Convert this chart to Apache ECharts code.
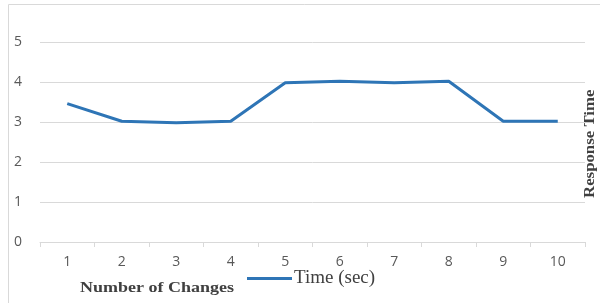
<!DOCTYPE html>
<html><head><meta charset="utf-8">
<script src="https://cdn.jsdelivr.net/npm/echarts@6/dist/echarts.min.js"></script>
<style>html,body{margin:0;padding:0;background:#fff}#c{width:600px;height:303px}</style>
</head><body><div id="c"></div>
<script>
var categories = ['1','2','3','4','5','6','7','8','9','10'];
var timeSec = [3.46, 3.02, 2.98, 3.02, 3.98, 4.02, 3.98, 4.02, 3.02, 3.02];
var yTicks = [0, 1, 2, 3, 4, 5];
var seriesName = 'Time (sec)';
var xTitle = 'Number of Changes';
var yTitle = 'Response Time';

var chart = echarts.init(document.getElementById('c'), null, {renderer: 'canvas'});
chart.setOption({
  animation: false,
  grid: {left: 40, right: 15, top: 42, bottom: 61},
  xAxis: {
    type: 'category', data: categories, boundaryGap: true,
    axisLine: {lineStyle: {color: '#d9d9d9', width: 1}},
    axisTick: {show: true, length: 5, lineStyle: {color: '#d9d9d9'}},
    axisLabel: {color: '#595959', fontSize: 14, fontFamily: 'Open Sans', margin: 13}
  },
  yAxis: {
    type: 'value', min: yTicks[0], max: yTicks[yTicks.length - 1], interval: 1,
    axisLine: {show: false}, axisTick: {show: false},
    splitLine: {lineStyle: {color: '#d9d9d9', width: 1}},
    axisLabel: {color: '#595959', fontSize: 14, fontFamily: 'Open Sans', margin: 18}
  },
  legend: {
    left: 242, top: 264, icon: 'rect', itemWidth: 45, itemHeight: 3, itemGap: 3,
    textStyle: {fontFamily: 'Liberation Serif', fontSize: 19, color: '#404040', padding: [4,0,0,-3]},
    data: [seriesName]
  },
  series: [{
    name: seriesName, type: 'line', data: timeSec, showSymbol: false, symbol: 'none',
    lineStyle: {color: '#2e75b6', width: 3}, itemStyle: {color: '#2e75b6'}
  }],
  graphic: [
    {type: 'rect', shape: {x: 8.5, y: 4.5, width: 620, height: 320}, style: {fill: 'none', stroke: '#d9d9d9', lineWidth: 1}, silent: true, z: -1},
    {type: 'text', x: 80, y: 296, scaleX: 1.2, style: {text: xTitle, font: 'bold 15px "Liberation Serif"', fill: '#404040', textVerticalAlign: 'bottom'}},
    {type: 'text', x: 583, y: 198, scaleX: 1.2, rotation: Math.PI / 2, style: {text: yTitle, font: 'bold 14px "Liberation Serif"', fill: '#404040', textAlign: 'left', textVerticalAlign: 'top'}}
  ]
});
</script></body></html>
